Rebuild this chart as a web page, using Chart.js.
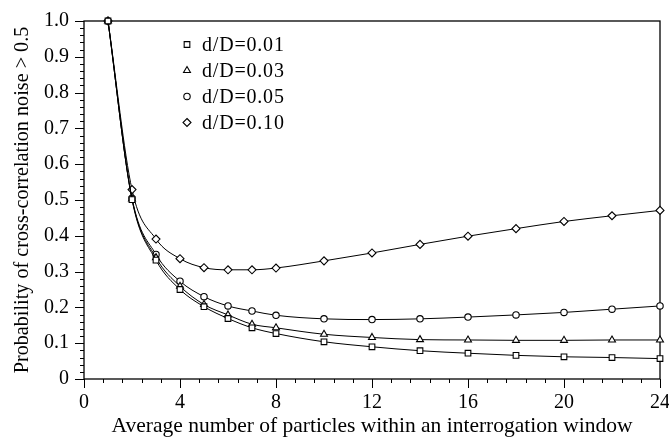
<!DOCTYPE html>
<html><head><meta charset="utf-8">
<script src="https://cdn.jsdelivr.net/npm/chart.js@4"></script>
<style>html,body{margin:0;padding:0;background:#fff}#wrap{width:669px;height:438px;position:relative}</style>
</head><body><div id="wrap"><canvas id="c"></canvas></div>
<script>
const particles = [1,2,3,4,5,6,7,8,10,12,14,16,18,20,22,24];
const seriesLabels = ['d/D=0.01','d/D=0.03','d/D=0.05','d/D=0.10'];
const d001 = [1.0,0.501,0.332,0.250,0.202,0.169,0.143,0.127,0.104,0.090,0.079,0.072,0.066,0.062,0.060,0.057];
const d003 = [1.0,0.503,0.339,0.259,0.208,0.179,0.153,0.143,0.125,0.116,0.110,0.109,0.108,0.108,0.109,0.109];
const d005 = [1.0,0.505,0.348,0.273,0.230,0.204,0.190,0.178,0.168,0.166,0.168,0.173,0.179,0.186,0.195,0.204];
const d010 = [1.0,0.529,0.391,0.336,0.311,0.305,0.305,0.310,0.330,0.352,0.376,0.399,0.420,0.440,0.456,0.471];
const markerStyles = ['rect','triangle','circle','rectRot'];
const markerRadii = [4,4,3.2,4];
const xTickLabels = ['0','4','8','12','16','20','24'];
const yTickLabels = ['0','0.1','0.2','0.3','0.4','0.5','0.6','0.7','0.8','0.9','1.0'];
const xTitle = 'Average number of particles within an interrogation window';
const yTitle = 'Probability of cross-correlation noise > 0.5';

const FONT = '"Liberation Serif","Times New Roman",serif';
const allSeries = [d001,d003,d005,d010];

const datasets = allSeries.map((vals,i)=>({
  label: seriesLabels[i],
  data: particles.map((x,j)=>({x:x,y:vals[j]})),
  borderColor:'#000',
  borderWidth:1,
  backgroundColor:'#fff',
  pointStyle: markerStyles[i],
  pointRadius: markerRadii[i],
  pointBorderWidth:1.1,
  pointBorderColor:'#000',
  pointBackgroundColor:'#fff',
  cubicInterpolationMode:'monotone',
  fill:false,
  clip:false
}));

function drawMarker(ctx, style, x, y, r){
  ctx.beginPath();
  if(style==='rect'){const s=Math.SQRT1_2*r;ctx.rect(x-s,y-s,2*s,2*s);}
  else if(style==='triangle'){
    ctx.moveTo(x, y - r); ctx.lineTo(x + r*Math.sin(Math.PI*2/3), y - r*Math.cos(Math.PI*2/3));
    ctx.lineTo(x - r*Math.sin(Math.PI*2/3), y - r*Math.cos(Math.PI*2/3)); ctx.closePath();
  }
  else if(style==='circle'){ctx.arc(x,y,r,0,Math.PI*2);}
  else if(style==='rectRot'){ctx.moveTo(x,y-r);ctx.lineTo(x+r,y);ctx.lineTo(x,y+r);ctx.lineTo(x-r,y);ctx.closePath();}
  ctx.fillStyle='#fff';ctx.fill();ctx.lineWidth=1.1;ctx.strokeStyle='#000';ctx.stroke();
}

const framePlugin = {
  id:'frame',
  beforeDatasetsDraw(chart){
    const {ctx, chartArea:a, scales:{x,y}} = chart;
    ctx.save();
    ctx.strokeStyle='#000';
    ctx.lineWidth=1.3;
    ctx.strokeRect(a.left, a.top, a.right-a.left, a.bottom-a.top);
    ctx.lineWidth=1;
    ctx.beginPath();
    for(let k=0;k<=30;k++){
      const v=k*0.8; const px=Math.round(x.getPixelForValue(v))+0.5;
      const len=(k%5===0)?9:4;
      ctx.moveTo(px,a.bottom); ctx.lineTo(px,a.bottom+len);
    }
    for(let k=0;k<=50;k++){
      const v=k*0.02; const py=Math.round(y.getPixelForValue(v))+0.5;
      const len=(k%5===0)?9:4;
      ctx.moveTo(a.left,py); ctx.lineTo(a.left-len,py);
    }
    ctx.stroke();
    ctx.restore();
  },
  afterDraw(chart){
    const {ctx, chartArea:a} = chart;
    ctx.save();
    chart.data.datasets.forEach((ds,i)=>{
      const mx=a.left+103, my=a.top+23.5+i*26;
      drawMarker(ctx, ds.pointStyle, mx, my, ds.pointRadius);
      ctx.font = '20px '+FONT;
      ctx.fillStyle='#000';
      ctx.textBaseline='middle';
      ctx.textAlign='left';
      try{ctx.letterSpacing='0.8px';}catch(e){}
      ctx.fillText(ds.label, a.left+118, my+1);
    });
    ctx.restore();
  }
};

new Chart(document.getElementById('c'), {
  type:'line',
  data:{datasets},
  plugins:[framePlugin],
  options:{
    responsive:true, maintainAspectRatio:false, animation:false,
    devicePixelRatio:1,
    layout:{padding:{top:21,right:9,left:0,bottom:0}},
    plugins:{legend:{display:false}, tooltip:{enabled:false}},
    scales:{
      x:{type:'linear', min:0, max:24,
        afterFit(s){s.height=59;s.paddingLeft=0;s.paddingRight=0;},
        afterBuildTicks(s){s.ticks = xTickLabels.map(t=>({value:Number(t)}));},
        grid:{display:false, drawTicks:false}, border:{display:false},
        ticks:{color:'#000', font:{family:FONT,size:20}, padding:12, maxRotation:0, autoSkip:false,
          callback:(v,i)=>xTickLabels[i]},
        title:{display:true, text:xTitle, color:'#000', font:{family:FONT,size:21.5}, padding:{top:0,bottom:-1}}
      },
      y:{type:'linear', min:0, max:1,
        afterFit(s){s.width=84;s.paddingTop=0;s.paddingBottom=0;},
        afterBuildTicks(s){s.ticks = yTickLabels.map(t=>({value:Number(t)}));},
        grid:{display:false, drawTicks:false}, border:{display:false},
        ticks:{color:'#000', font:{family:FONT,size:20}, padding:15, autoSkip:false,
          callback:(v,i)=>yTickLabels[i]},
        title:{display:true, text:yTitle, color:'#000', font:{family:FONT,size:20.2}, padding:{top:11,bottom:0}}
      }
    }
  }
});
</script></body></html>
